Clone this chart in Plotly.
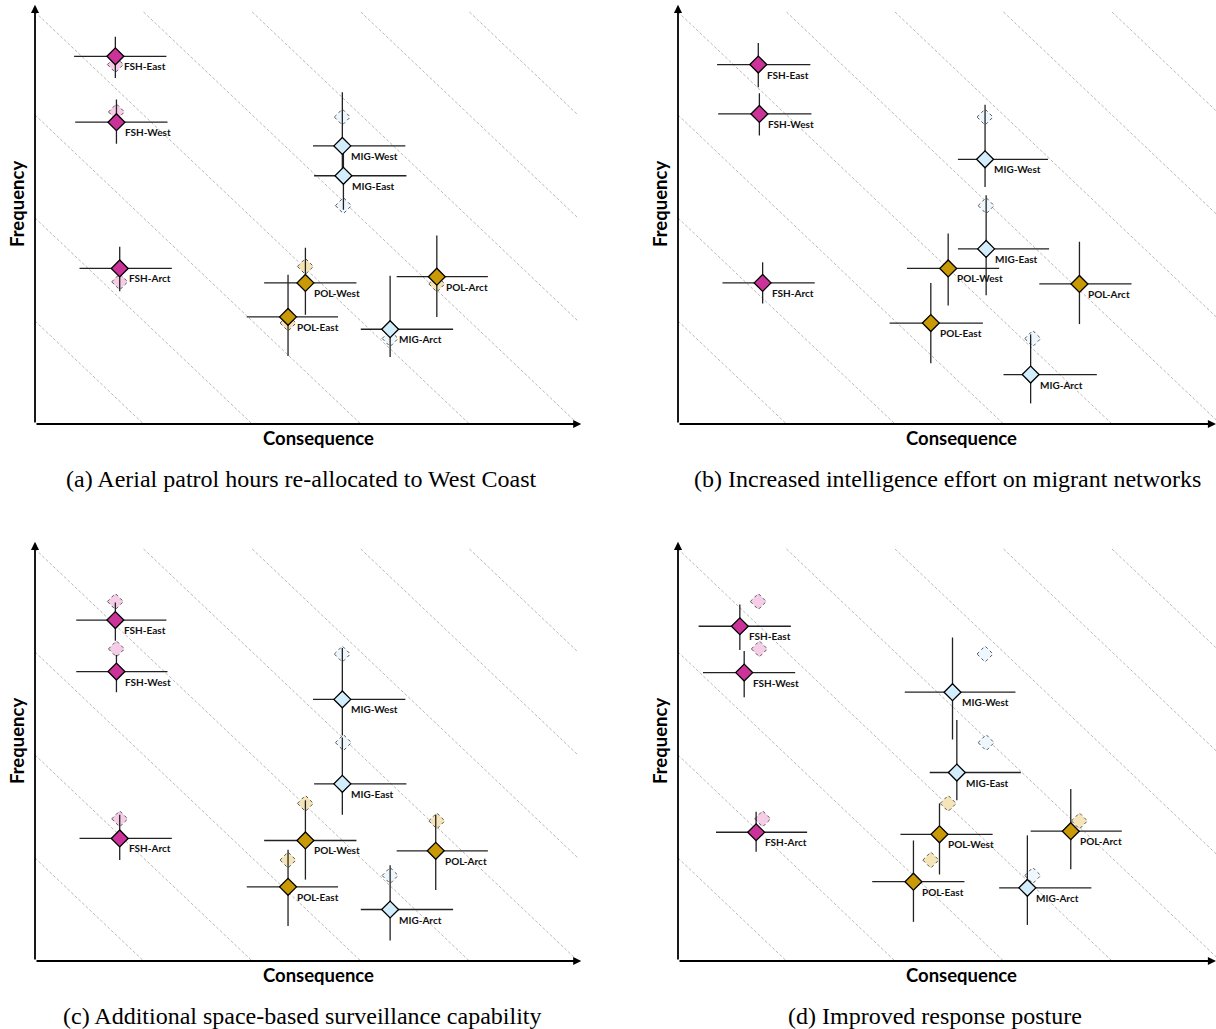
import plotly.graph_objects as go

W, H = 1216, 1029

# ---------------- data ----------------
names = ["FSH-East", "FSH-West", "FSH-Arct", "MIG-West", "MIG-East", "MIG-Arct",
         "POL-West", "POL-East", "POL-Arct"]

# baseline positions (faded, dashed diamonds)
base_x = [0.74, 0.75, 0.78, 2.83, 2.84, 3.27, 2.49, 2.33, 3.70]
base_y = [3.49, 3.03, 1.38, 2.98, 2.12, 0.83, 1.53, 0.98, 1.36]

# (a) Aerial patrol hours re-allocated to West Coast
a_x = [0.74, 0.75, 0.78, 2.83, 2.84, 3.27, 2.49, 2.33, 3.70]
a_y = [3.57, 2.93, 1.51, 2.70, 2.41, 0.92, 1.37, 1.04, 1.43]
a_xlo = [0.36, 0.37, 0.41, 2.56, 2.57, 3.00, 2.11, 1.95, 3.33]
a_xhi = [1.21, 1.22, 1.26, 3.41, 3.42, 3.85, 2.96, 2.79, 4.17]
a_ylo = [3.36, 2.72, 1.29, 2.41, 2.08, 0.65, 1.06, 0.66, 1.04]
a_yhi = [3.76, 3.15, 1.72, 3.22, 2.70, 1.44, 1.71, 1.45, 1.83]
a_ghost = [1, 1, 1, 1, 1, 1, 1, 1, 1]

# (b) Increased intelligence effort on migrant networks
b_x = [0.74, 0.75, 0.78, 2.83, 2.84, 3.25, 2.49, 2.33, 3.70]
b_y = [3.49, 3.01, 1.37, 2.57, 1.70, 0.48, 1.51, 0.98, 1.36]
b_xlo = [0.36, 0.37, 0.41, 2.58, 2.58, 3.00, 2.11, 1.95, 3.33]
b_xhi = [1.22, 1.23, 1.26, 3.41, 3.42, 3.86, 2.96, 2.81, 4.18]
b_ylo = [3.27, 2.80, 1.17, 2.30, 1.25, 0.20, 1.15, 0.59, 0.97]
b_yhi = [3.70, 3.21, 1.57, 3.10, 2.22, 0.87, 1.85, 1.37, 1.77]
b_ghost = [0, 0, 0, 1, 1, 1, 0, 0, 0]

# (c) Additional space-based surveillance capability
c_x = [0.74, 0.75, 0.78, 2.83, 2.83, 3.27, 2.49, 2.33, 3.69]
c_y = [3.31, 2.81, 1.19, 2.54, 1.72, 0.50, 1.17, 0.72, 1.07]
c_xlo = [0.38, 0.38, 0.41, 2.56, 2.57, 3.00, 2.11, 1.95, 3.33]
c_xhi = [1.21, 1.22, 1.26, 3.41, 3.42, 3.85, 2.96, 2.79, 4.17]
c_ylo = [3.11, 2.61, 0.98, 2.19, 1.42, 0.20, 0.79, 0.34, 0.69]
c_yhi = [3.48, 2.97, 1.42, 3.04, 2.17, 0.93, 1.56, 1.08, 1.42]
c_ghost = [1, 1, 1, 1, 1, 1, 1, 1, 1]

# (d) Improved response posture
d_x = [0.57, 0.61, 0.72, 2.53, 2.57, 3.22, 2.41, 2.17, 3.62]
d_y = [3.25, 2.80, 1.25, 2.61, 1.83, 0.71, 1.23, 0.77, 1.26]
d_xlo = [0.19, 0.23, 0.35, 2.09, 2.32, 2.96, 2.05, 1.79, 3.25]
d_xhi = [1.04, 1.08, 1.19, 3.11, 3.16, 3.81, 2.90, 2.64, 4.09]
d_ylo = [3.02, 2.56, 1.06, 2.15, 1.56, 0.35, 0.84, 0.38, 0.89]
d_yhi = [3.46, 3.01, 1.45, 3.14, 2.34, 1.22, 1.53, 1.17, 1.67]
d_ghost = [1, 1, 1, 1, 1, 1, 1, 1, 1]

captions = ["(a) Aerial patrol hours re-allocated to West Coast",
            "(b) Increased intelligence effort on migrant networks",
            "(c) Additional space-based surveillance capability",
            "(d) Improved response posture"]

iso_levels = [1, 2, 3, 4, 5, 6, 7, 8]
X_MAX, Y_MAX = 5.0, 4.0

# ---------------- styles ----------------
fill = {"FSH": "#cc3399", "MIG": "#d2eefc", "POL": "#c99a06"}
ghost_fill = {"FSH": "#f5cde6", "MIG": "#edf7fd", "POL": "#f6e4b9"}

panels = [
    dict(x=a_x, y=a_y, xlo=a_xlo, xhi=a_xhi, ylo=a_ylo, yhi=a_yhi, ghost=a_ghost,
         ox=35, oy=424, ux=108.6, xend=W, cap_x=301, cap_y=479),
    dict(x=b_x, y=b_y, xlo=b_xlo, xhi=b_xhi, ylo=b_ylo, yhi=b_yhi, ghost=b_ghost,
         ox=678, oy=424, ux=108.5, xend=W, cap_x=947, cap_y=479),
    dict(x=c_x, y=c_y, xlo=c_xlo, xhi=c_xhi, ylo=c_ylo, yhi=c_yhi, ghost=c_ghost,
         ox=35, oy=961, ux=108.6, xend=W, cap_x=302, cap_y=1016),
    dict(x=d_x, y=d_y, xlo=d_xlo, xhi=d_xhi, ylo=d_ylo, yhi=d_yhi, ghost=d_ghost,
         ox=678, oy=961, ux=108.5, xend=W, cap_x=935, cap_y=1016),
]
UY = 103.0
YR = 4.1

fig = go.Figure()
shapes, annotations = [], []
LABEL_FONT = dict(family="Lato", size=10, color="#111", weight="bold")
AX_FONT = dict(family="Lato", size=18.5, color="#000", weight="bold")

for i, p in enumerate(panels):
    sfx = "" if i == 0 else str(i + 1)
    xr, yr = "x" + sfx, "y" + sfx
    xmax = min(5.05, (p["xend"] - p["ox"]) / p["ux"])
    x_dom = [p["ox"] / W, min(1.0, (p["ox"] + xmax * p["ux"]) / W)]
    y_dom = [(H - p["oy"]) / H, (H - p["oy"] + YR * UY) / H]
    ax_common = dict(showgrid=False, zeroline=False, showticklabels=False, ticks="",
                     showline=False, fixedrange=True, autorange=False)
    fig.layout["xaxis" + sfx] = dict(domain=x_dom, range=[0, xmax], anchor=yr, **ax_common)
    fig.layout["yaxis" + sfx] = dict(domain=y_dom, range=[0, YR], anchor=xr, **ax_common)

    # iso-risk diagonals
    for k in iso_levels:
        x0, y0 = max(0, k - Y_MAX), min(Y_MAX, k)
        x1, y1 = min(X_MAX, k), max(0, k - X_MAX)
        shapes.append(dict(type="line", xref=xr, yref=yr, x0=x0, y0=y0, x1=x1, y1=y1,
                           layer="below", line=dict(color="#9a9a9a", width=0.7, dash="3px,2px")))

    # ghost (baseline) diamonds
    for n, bx, by, g in zip(names, base_x, base_y, p["ghost"]):
        if not g:
            continue
        grp = n[:3]
        shapes.append(dict(type="path", xref=xr, yref=yr, xsizemode="pixel", ysizemode="pixel",
                           xanchor=bx, yanchor=by, path="M -8 0 L 0 8 L 8 0 L 0 -8 Z",
                           layer="below", fillcolor=ghost_fill[grp],
                           line=dict(color="#555", width=1, dash="dot")))

    # main markers with crosshair ranges
    fig.add_trace(go.Scatter(
        x=p["x"], y=p["y"], xaxis=xr, yaxis=yr, mode="markers", showlegend=False,
        hoverinfo="text", text=names,
        marker=dict(symbol="diamond", size=13,
                    color=[fill[n[:3]] for n in names],
                    line=dict(color="#000", width=1.3)),
        error_x=dict(type="data", symmetric=False,
                     array=[h - v for h, v in zip(p["xhi"], p["x"])],
                     arrayminus=[v - l for l, v in zip(p["xlo"], p["x"])],
                     color="#222", thickness=1.3, width=0),
        error_y=dict(type="data", symmetric=False,
                     array=[h - v for h, v in zip(p["yhi"], p["y"])],
                     arrayminus=[v - l for l, v in zip(p["ylo"], p["y"])],
                     color="#222", thickness=1.3, width=0),
    ))

    # point labels
    for n, vx, vy in zip(names, p["x"], p["y"]):
        annotations.append(dict(xref=xr, yref=yr, x=vx, y=vy, text=n, showarrow=False,
                                xanchor="left", yanchor="middle", xshift=7, yshift=-10,
                                font=LABEL_FONT))

    # axis arrows
    x_tip = 5.03 if xmax > 5.03 else xmax
    annotations.append(dict(xref=xr, yref=yr, axref=xr, ayref=yr, x=x_tip, y=0, ax=0, ay=0,
                            text="", showarrow=True, arrowhead=2, arrowsize=0.9,
                            arrowwidth=1.8, arrowcolor="#000"))
    annotations.append(dict(xref=xr, yref=yr, axref=xr, ayref=yr, x=0, y=4.07, ax=0, ay=0,
                            text="", showarrow=True, arrowhead=2, arrowsize=0.9,
                            arrowwidth=1.8, arrowcolor="#000"))

    # axis titles
    annotations.append(dict(xref="paper", yref="paper", x=(p["ox"] + 283) / W,
                            y=1 - (p["oy"] + 14) / H, text="Consequence", showarrow=False,
                            xanchor="center", yanchor="middle", font=AX_FONT))
    annotations.append(dict(xref="paper", yref="paper", x=(p["ox"] - 18) / W,
                            y=1 - (p["oy"] - 220) / H, text="Frequency", showarrow=False,
                            textangle=-90, xanchor="center", yanchor="middle", font=AX_FONT))
    # caption
    annotations.append(dict(xref="paper", yref="paper", x=p["cap_x"] / W, y=1 - p["cap_y"] / H,
                            text=captions[i], showarrow=False, xanchor="center", yanchor="middle",
                            font=dict(family="Liberation Serif", size=24, color="#000")))

fig.update_layout(width=W, height=H, margin=dict(l=0, r=0, t=0, b=0),
                  paper_bgcolor="white", plot_bgcolor="rgba(0,0,0,0)",
                  shapes=shapes, annotations=annotations, showlegend=False)

fig.write_html("out.html", config={"displayModeBar": False},
               post_script="document.body.style.margin='0';document.body.style.overflow='hidden';")
